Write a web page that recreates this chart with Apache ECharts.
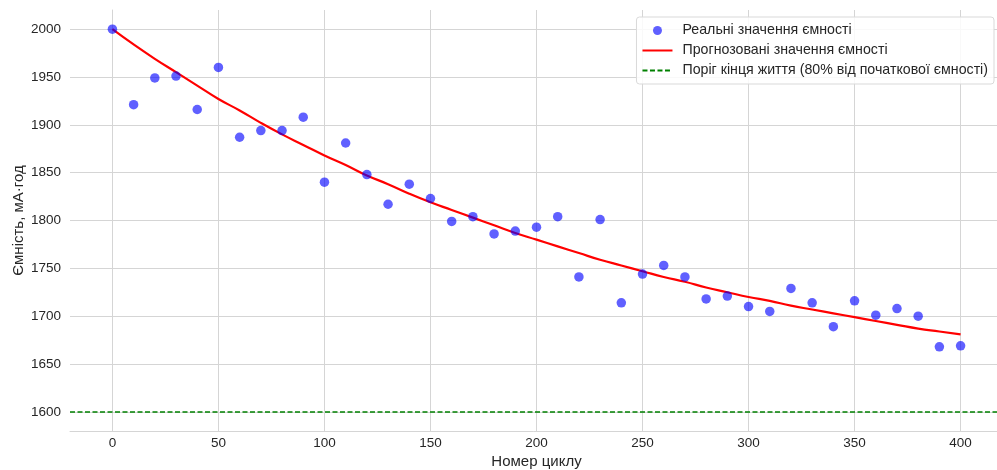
<!DOCTYPE html>
<html>
<head>
<meta charset="utf-8">
<script src="https://cdn.jsdelivr.net/npm/echarts@6/dist/echarts.min.js"></script>
<style>
    html, body { margin: 0; padding: 0; background: #fff; }
    #chart { width: 997px; height: 470px; }
</style>
</head>
<body>
<div id="chart"></div>
<script>
// номери циклів
const cycles = [0, 10, 20, 30, 40, 50, 60, 70, 80, 90, 100, 110, 120, 130, 140, 150, 160, 170, 180, 190, 200,
    210, 220, 230, 240, 250, 260, 270, 280, 290, 300, 310, 320, 330, 340, 350, 360, 370, 380, 390, 400]
// реальні значення
const actual = [2000, 1921, 1949, 1951, 1916, 1960, 1887, 1894, 1894, 1908, 1840, 1881, 1848, 1817, 1838, 1823,
    1799, 1804, 1786, 1789, 1793, 1804, 1741, 1801, 1714, 1744, 1753, 1741, 1718, 1721, 1710, 1705, 1729, 1714,
    1689, 1716, 1701, 1708, 1700, 1668, 1669]
// прогнозована крива
const predicted = [2000, 1984, 1969, 1955, 1941, 1927, 1915, 1902, 1890, 1879, 1868, 1858, 1847, 1838, 1828, 1819,
    1811, 1803, 1795, 1787, 1780, 1773, 1766, 1759, 1753, 1747, 1741, 1736, 1730, 1725, 1720, 1716, 1711, 1707,
    1703, 1699, 1695, 1691, 1687, 1684, 1681]
const threshold = 1600

// поділки осей
const xTicks = [0, 50, 100, 150, 200, 250, 300, 350, 400]
const yTicks = [1600, 1650, 1700, 1750, 1800, 1850, 1900, 1950, 2000]

const names = [
    'Реальні значення ємності',
    'Прогнозовані значення ємності',
    'Поріг кінця життя (80% від початкової ємності)',
]

const chart = echarts.init(document.getElementById('chart'))
const font = '"Liberation Sans", Arial, sans-serif'
const textColor = '#262626'
const gridColor = '#d5d5d5'

const option = {
    animation: false,
    textStyle: { fontFamily: font, color: textColor },
    grid: { left: 70, right: -6, top: 10, bottom: 39, containLabel: false, outerBoundsMode: 'none' },
    legend: {
        orient: 'vertical',
        right: 3,
        top: 17,
        padding: [6, 6, 6, 5],
        itemWidth: 30,
        itemHeight: 9,
        itemGap: 5,
        backgroundColor: 'rgba(255,255,255,0.85)',
        borderColor: '#d9d9d9',
        borderWidth: 1,
        borderRadius: 3,
        textStyle: { fontFamily: font, fontSize: 14.2, color: textColor, lineHeight: 15, padding: [0, 0, 0, 5] },
        data: [
            { name: names[0], icon: 'circle' },
            { name: names[1], itemStyle: { color: 'transparent', borderWidth: 0 } },
            { name: names[2], itemStyle: { color: 'transparent', borderWidth: 0 } },
        ],
    },
    xAxis: {
        type: 'value',
        min: -20,
        max: 420,
        name: 'Номер циклу',
        nameLocation: 'middle',
        nameGap: 23,
        nameMoveOverlap: false,
        nameTextStyle: { fontSize: 15, color: textColor },
        axisLine: { show: true, lineStyle: { color: gridColor, width: 1 } },
        axisTick: { show: false, customValues: xTicks },
        axisLabel: { customValues: xTicks, fontSize: 13.5, color: textColor, margin: 5, formatter: (v) => String(v) },
        splitLine: { show: true, lineStyle: { color: gridColor, width: 1 } },
    },
    yAxis: {
        type: 'value',
        min: 1580,
        max: 2020,
        name: 'Ємність, мА·год',
        nameLocation: 'middle',
        nameGap: 44,
        nameMoveOverlap: false,
        nameTextStyle: { fontSize: 15, color: textColor },
        axisLine: { show: true, lineStyle: { color: gridColor, width: 1 } },
        axisTick: { show: false, customValues: yTicks },
        axisLabel: { customValues: yTicks, fontSize: 13.5, color: textColor, margin: 9, formatter: (v) => String(v) },
        splitLine: { show: true, lineStyle: { color: gridColor, width: 1 } },
    },
    series: [
        {
            name: names[0],
            type: 'scatter',
            z: 5,
            symbolSize: 9.5,
            itemStyle: { color: 'rgba(0,0,255,0.78)' },
            data: cycles.map((c, i) => [c, actual[i]]),
        },
        {
            name: names[1],
            type: 'line',
            z: 3,
            smooth: true,
            symbol: 'none',
            lineStyle: { color: '#ff0000', width: 2.2 },
            itemStyle: { color: '#ff0000' },
            data: cycles.map((c, i) => [c, predicted[i]]),
        },
        {
            name: names[2],
            type: 'line',
            z: 2,
            symbol: 'none',
            lineStyle: { color: '#008000', width: 1.5, type: [5, 2.5] },
            itemStyle: { color: '#008000' },
            data: [],
            markLine: {
                silent: true,
                symbol: 'none',
                label: { show: false },
                lineStyle: { color: '#008000', width: 1.5, type: [5, 2.5] },
                data: [{ yAxis: threshold }],
            },
        },
    ],
}
chart.setOption(option)
</script>
</body>
</html>
